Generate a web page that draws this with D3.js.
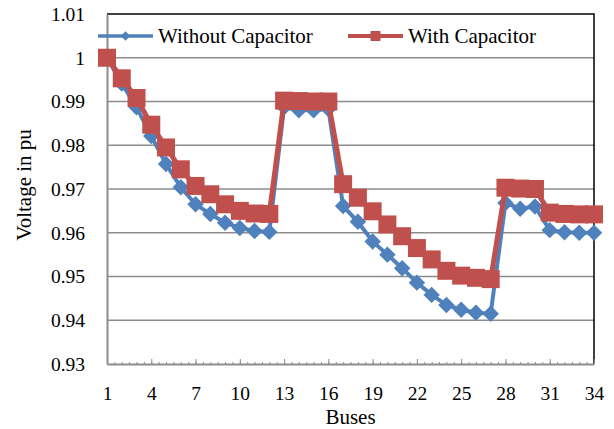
<!DOCTYPE html>
<html>
<head>
<meta charset="utf-8">
<script src="https://cdn.jsdelivr.net/npm/d3@7"></script>
<style>
  body { margin: 0; background: #fff; }
  text { font-family: "Liberation Serif", "Times New Roman", serif; fill: #000; }
</style>
</head>
<body>
<svg id="chart" width="614" height="429"></svg>
<script>
const margin = {top: 14, right: 20, bottom: 65, left: 107};

// bus numbers 1..34
const buses = [1,2,3,4,5,6,7,8,9,10,11,12,13,14,15,16,17,18,19,20,21,22,23,24,25,26,27,28,29,30,31,32,33,34];

const withoutCap = [1.0000, 0.9941, 0.9887, 0.9821, 0.9757, 0.9704, 0.9665, 0.9643, 0.9623, 0.9611, 0.9604, 0.9602,
  0.9887, 0.9880, 0.9880, 0.9883, 0.9661, 0.9625, 0.9580, 0.9550, 0.9519, 0.9486, 0.9458, 0.9435, 0.9424, 0.9417, 0.9415,
  0.9668, 0.9655, 0.9660, 0.9606, 0.9601, 0.9600, 0.9600];

const withCap = [1.0000, 0.9953, 0.9908, 0.9847, 0.9795, 0.9745, 0.9707, 0.9688, 0.9665, 0.9650, 0.9644, 0.9643,
  0.9902, 0.9901, 0.9900, 0.9900, 0.9711, 0.9680, 0.9649, 0.9619, 0.9592, 0.9565, 0.9539, 0.9513, 0.9502, 0.9497, 0.9494,
  0.9703, 0.9701, 0.9700, 0.9646, 0.9643, 0.9642, 0.9642];

const yTicks = [0.93, 0.94, 0.95, 0.96, 0.97, 0.98, 0.99, 1.00, 1.01];
const xTickLabels = [1, 4, 7, 10, 13, 16, 19, 22, 25, 28, 31, 34];

const blue = "#4f81bd", red = "#c0504d";

const svg = d3.select("#chart");
const width = +svg.attr("width") - margin.left - margin.right;
const height = +svg.attr("height") - margin.top - margin.bottom;
const g = svg.append("g").attr("transform", `translate(${margin.left}, ${margin.top})`);

const x = d3.scalePoint().domain(buses).range([0, width]);
const xLin = d3.scaleLinear().domain([1, 34]).range([0, width]);
const y = d3.scaleLinear().domain([0.93, 1.01]).range([height, 0]);

// gridlines
g.append("g")
  .selectAll("line")
  .data(yTicks.filter(v => v > 0.93 && v < 1.01))
  .join("line")
  .attr("x1", 0).attr("x2", width)
  .attr("y1", d => y(d)).attr("y2", d => y(d))
  .attr("stroke", "#8c8c8c").attr("stroke-width", 1.5);

// top and right border (black)
g.append("path")
  .attr("d", `M0,${y(1.01)}H${width}V${height}`)
  .attr("fill", "none").attr("stroke", "#000").attr("stroke-width", 1.5);

// y axis
const yAxis = g.append("g")
  .call(d3.axisLeft(y).tickValues(yTicks).tickSize(0).tickPadding(22)
    .tickFormat(d => d === 1 ? "1" : d3.format(".2f")(d)));
yAxis.select(".domain").attr("stroke", "#8c8c8c").attr("stroke-width", 2);
yAxis.selectAll("text").style("font-size", "19.5px");

// minor ticks on x axis
const xMinor = g.append("g")
  .attr("transform", `translate(0, ${height})`)
  .call(d3.axisBottom(xLin).tickValues(d3.range(1, 34.01, 0.5)).tickSize(-2).tickFormat(""));
xMinor.select(".domain").remove();
xMinor.selectAll("line").attr("stroke", "#8c8c8c");

// x axis with labels
const xAxis = g.append("g")
  .attr("transform", `translate(0, ${height})`)
  .call(d3.axisBottom(x).tickValues(xTickLabels).tickSize(-5).tickPadding(22).tickSizeOuter(0));
xAxis.select(".domain").attr("stroke", "#8c8c8c").attr("stroke-width", 2);
xAxis.selectAll("line").attr("stroke", "#8c8c8c");
xAxis.selectAll("text").style("font-size", "19.5px");

// axis titles
g.append("text")
  .attr("x", width / 2).attr("y", height + 60)
  .attr("text-anchor", "middle")
  .style("font-size", "21px")
  .text("Buses");
g.append("text")
  .attr("transform", `translate(${-76}, ${height / 2 - 4}) rotate(-90)`)
  .attr("text-anchor", "middle")
  .style("font-size", "21px")
  .text("Voltage in pu");

const line = d3.line().x((d, i) => x(buses[i])).y(d => y(d));

// series 1: without capacitor
g.append("path").datum(withoutCap)
  .attr("fill", "none").attr("stroke", blue).attr("stroke-width", 4)
  .attr("d", line);
g.append("g").selectAll("path")
  .data(withoutCap)
  .join("path")
  .attr("d", d3.symbol(d3.symbolSquare, 135))
  .attr("transform", (d, i) => `translate(${x(buses[i])}, ${y(d)}) rotate(45)`)
  .attr("fill", blue);

// series 2: with capacitor
g.append("path").datum(withCap)
  .attr("fill", "none").attr("stroke", red).attr("stroke-width", 5)
  .attr("d", line);
g.append("g").selectAll("path")
  .data(withCap)
  .join("path")
  .attr("d", d3.symbol(d3.symbolSquare, 324))
  .attr("transform", (d, i) => `translate(${x(buses[i])}, ${y(d)})`)
  .attr("fill", red);

// legend
const legend = [
  {name: "Without Capacitor", color: blue, x: -9, shape: "diamond"},
  {name: "With Capacitor", color: red, x: 241, shape: "square"}
];
const lg = g.append("g").selectAll("g").data(legend).join("g")
  .attr("transform", d => `translate(${d.x}, 22)`);
lg.append("line")
  .attr("x1", 0).attr("x2", 55)
  .attr("stroke", d => d.color).attr("stroke-width", d => d.shape === "square" ? 4 : 3.5);
lg.append("path")
  .attr("d", d => d3.symbol(d3.symbolSquare, d.shape === "square" ? 100 : 45)())
  .attr("transform", d => `translate(27.5, 0) rotate(${d.shape === "diamond" ? 45 : 0})`)
  .attr("fill", d => d.color);
lg.append("text")
  .attr("x", 60).attr("y", 7)
  .style("font-size", "21px")
  .text(d => d.name);
</script>
</body>
</html>
